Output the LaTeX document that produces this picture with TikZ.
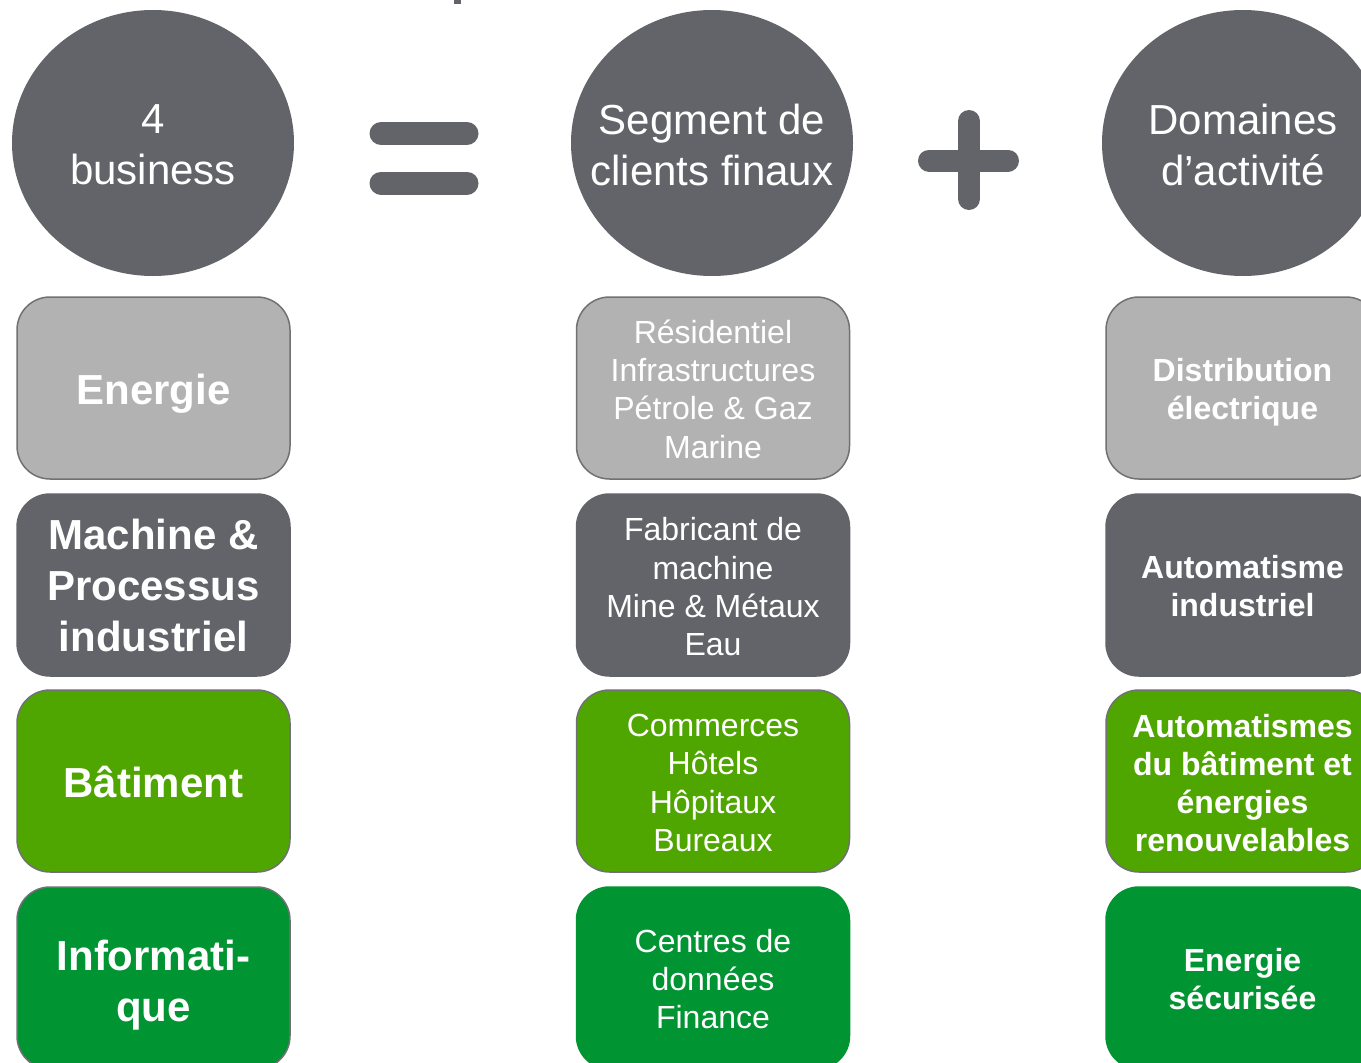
\documentclass[tikz,border=0pt]{standalone}
\usepackage{fontspec}
\setmainfont{Liberation Sans}
\usetikzlibrary{shapes.geometric}
\definecolor{dgray}{RGB}{99,100,105}
\definecolor{lgray}{RGB}{178,178,178}
\definecolor{bgreen}{RGB}{80,166,0}
\definecolor{dgreen}{RGB}{0,148,50}
\definecolor{edgec}{RGB}{112,113,117}
\begin{document}
\begin{tikzpicture}[x=1pt,y=-1pt,
 circ/.style={ellipse, fill=dgray, minimum width=282pt, minimum height=266pt, inner sep=0pt},
 ctext/.style={text=white, align=center, inner sep=0pt, font=\fontsize{42}{51}\selectfont},
 box/.style={rectangle, rounded corners=33pt, minimum width=273pt, minimum height=182pt, inner sep=0pt, draw=edgec, line width=1.5pt},
 txt/.style={text=white, align=center, inner sep=0pt},
 bigb/.style={txt, font=\fontsize{42}{51}\selectfont\bfseries},
 reg/.style={txt, font=\fontsize{32}{38.3}\selectfont},
 smb/.style={txt, font=\fontsize{32}{38}\selectfont\bfseries},
 bar/.style={line width=23pt, line cap=round, draw=dgray},
 pbar/.style={line width=22pt, line cap=round, draw=dgray}]
\useasboundingbox (0,0) rectangle (1361,1063);
\clip (0,0) rectangle (1361,1063);
\fill[white] (0,0) rectangle (1361,1063);
% fragment of cut-off title
\fill[dgray] (454,0) rectangle (461,4);
% circles
\node[circ] (c1) at (153,143) {};
\node[circ] (c2) at (712,143) {};
\node[circ] (c3) at (1243,143) {};
\node[ctext] (t1) at ([yshift=-2pt]c1.center) {4\\business};
\node[ctext] (t2) at ([yshift=-2pt]c2.center) {Segment de\\clients finaux};
\node[ctext] (t3) at ([yshift=-2pt]c3.center) {Domaines\\d’activité};
% equals sign
\draw[bar] (381,133.5) -- (467,133.5);
\draw[bar] (381,183) -- (467,183);
% plus sign
\draw[pbar] (969,121) -- (969,199);
\draw[pbar] (929,160.5) -- (1008,160.5);
% column 1
\node[box, fill=lgray] (b11) at (153.5,388) {};
\node[box, fill=dgray, draw=dgray] (b12) at (153.5,585) {};
\node[box, fill=bgreen] (b13) at (153.5,781) {};
\node[box, fill=dgreen] (b14) at (153.5,978) {};
\node[bigb] (t11) at ([yshift=-6pt]b11.center) {Energie};
\node[bigb] (t12) at ([yshift=0pt]b12.center) {Machine \&\\Processus\\industriel};
\node[bigb] (t13) at ([yshift=-1pt]b13.center) {Bâtiment};
\node[bigb] (t14) at ([yshift=-7pt]b14.center) {Informati-\\que};
% column 2
\node[box, fill=lgray] (b21) at (713,388) {};
\node[box, fill=dgray, draw=dgray] (b22) at (713,585) {};
\node[box, fill=bgreen] (b23) at (713,781) {};
\node[box, fill=dgreen, draw=dgreen] (b24) at (713,978) {};
\node[reg] (t21) at ([yshift=-1pt]b21.center) {Résidentiel\\Infrastructures\\Pétrole \& Gaz\\Marine};
\node[reg] (t22) at ([yshift=-2pt]b22.center) {Fabricant de\\machine\\Mine \& Métaux\\Eau};
\node[reg] (t23) at ([yshift=-2pt]b23.center) {Commerces\\Hôtels\\Hôpitaux\\Bureaux};
\node[reg] (t24) at ([yshift=-1pt]b24.center) {Centres de\\données\\Finance};
% column 3
\node[box, fill=lgray] (b31) at (1242.5,388) {};
\node[box, fill=dgray, draw=dgray] (b32) at (1242.5,585) {};
\node[box, fill=bgreen] (b33) at (1242.5,781) {};
\node[box, fill=dgreen, draw=dgreen] (b34) at (1242.5,978) {};
\node[smb] (t31) at ([yshift=-4pt]b31.center) {Distribution\\électrique};
\node[smb] (t32) at ([yshift=-1pt]b32.center) {Automatisme\\industriel};
\node[smb] (t33) at ([yshift=-2pt]b33.center) {Automatismes\\du bâtiment et\\énergies\\renouvelables};
\node[smb] (t34) at ([yshift=-1pt]b34.center) {Energie\\sécurisée};
\end{tikzpicture}
\end{document}
